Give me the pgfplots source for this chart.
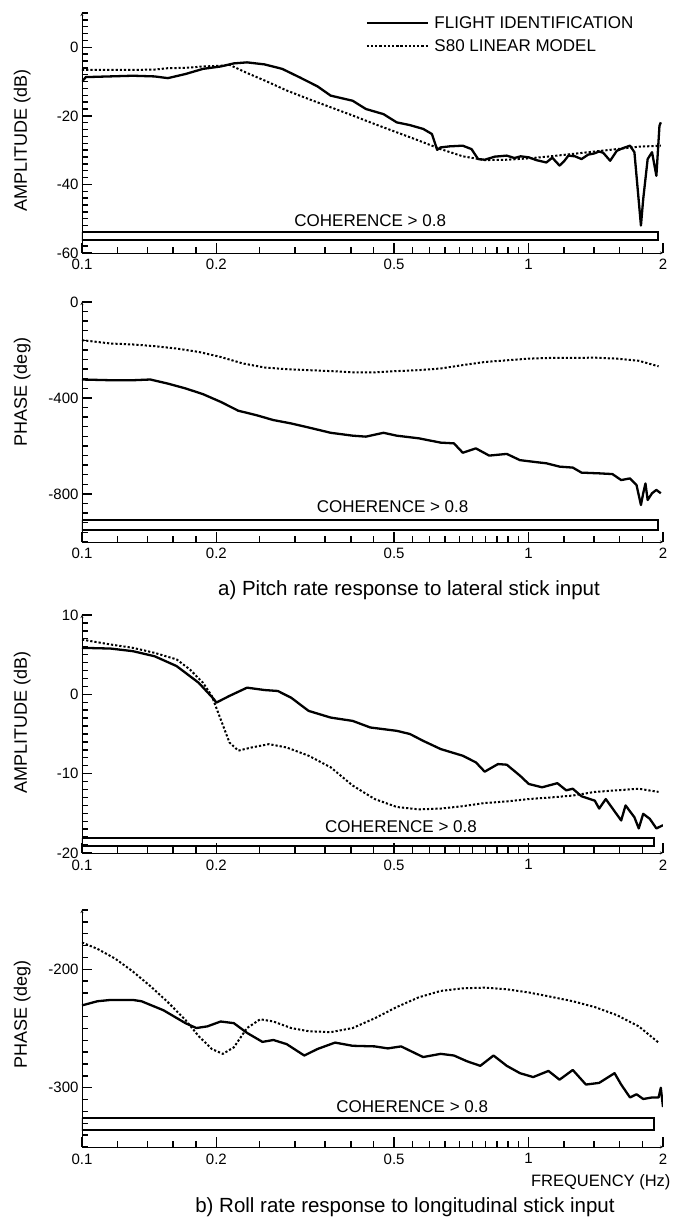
\documentclass[border=0pt]{standalone}
\usepackage{fontspec}
\setmainfont{Liberation Sans}
\usepackage{pgfplots}
\pgfplotsset{compat=1.18}
\pgfplotsset{
  every axis/.append style={
    scale only axis, width=581pt,
    xmin=0.1, xmax=2,
    axis x line=bottom, axis y line=left,
    xtick={0.1,0.2,0.5,1,2}, xticklabels={0.1,0.2,0.5,1,2},
    minor xtick={0.12,0.14,0.16,0.18,0.25,0.3,0.35,0.4,0.45,0.55,0.6,0.65,0.7,0.75,0.8,0.85,0.9,0.95,1.2,1.4,1.6,1.8},
    tick align=inside, major tick length=10pt, minor tick length=6pt,
    tick style={black, line width=1.4pt},
    tick label style={font=\fontsize{15}{17}\selectfont},
    xticklabel style={yshift=-3pt},
    /pgf/number format/assume math mode=true,
    ylabel style={font=\fontsize{18}{20}\selectfont, anchor=center},
  },
  every axis x line/.append style={-, line width=2.4pt},
  every axis y line/.append style={-, line width=2.4pt},
}
\tikzset{
  flight/.style={black, line width=2.3pt, line join=round},
  model/.style={black, line width=2pt, dash pattern=on 2.2pt off 2pt},
  coh/.style={black, line width=2pt},
  cohtext/.style={font=\fontsize{17}{19}\selectfont},
}
\begin{document}
\begin{tikzpicture}
\useasboundingbox (0,0) rectangle (683pt,1219pt);
% ---------------- Panel 1
\begin{axis}[xmode=log, height=240pt, at={(82pt,966pt)}, anchor=south west,
  ymin=-60, ymax=10, ytick={-60,-40,-20,0},
  minor ytick={-60,-58,...,10}, ylabel={AMPLITUDE (dB)},
  ylabel style={at={(axis description cs:-0.103,0.47)}},
  legend style={draw=none, fill=none, at={(0.488,0.995)}, anchor=north west,
    inner sep=0pt, row sep=6pt, column sep=3pt, font=\fontsize{17}{19}\selectfont},
  legend image post style={xscale=3.6},
  legend cell align=left]
\addplot[flight] table {
0.1 -10
0.102 -8.7
0.130 -8.3
0.1454 -8.5
0.1557 -9
0.1705 -7.8
0.1866 -6.3
0.2044 -5.6
0.2188 -4.7
0.2342 -4.4
0.2565 -5
0.2808 -6.3
0.3075 -8.8
0.3368 -11.4
0.3605 -14.1
0.4038 -15.6
0.4322 -18
0.4733 -19.5
0.5067 -21.9
0.5424 -22.7
0.5806 -23.8
0.6076 -25.3
0.6244 -29.9
0.6357 -29.2
0.6653 -28.9
0.7122 -28.7
0.7453 -29.7
0.7710 -32.6
0.7977 -32.8
0.84 -31.9
0.8936 -31.6
0.93 -32.3
0.96 -31.8
1.001 -32.1
1.04 -32.9
1.096 -33.6
1.13 -32.2
1.173 -34.5
1.20 -33.3
1.228 -31.6
1.27 -31.8
1.314 -32.6
1.36 -31.3
1.40 -31.0
1.439 -30.4
1.47 -30.8
1.523 -33.1
1.576 -30.2
1.62 -29.5
1.687 -28.7
1.726 -30.6
1.785 -52
1.806 -44.3
1.848 -32.6
1.890 -30.6
1.933 -37.5
1.964 -22.9
1.978 -21.9
};
\addplot[model] table {
0.1 -6.6
0.13 -6.6
0.1454 -6.5
0.1557 -6.1
0.1705 -6.0
0.1866 -5.6
0.2044 -5.4
0.2139 -5.1
0.2342 -7.5
0.2565 -9.7
0.2873 -12.6
0.3218 -15.1
0.3605 -17.5
0.4038 -19.9
0.4523 -22.4
0.5067 -24.8
0.5675 -27.2
0.6357 -29.7
0.7122 -31.8
0.7977 -32.9
0.8936 -32.8
1.001 -32.4
1.121 -31.8
1.256 -31.1
1.407 -30.4
1.576 -29.7
1.765 -29.0
1.978 -28.7
};
\addplot[coh, forget plot] coordinates {(0.1,-54) (1.946,-54) (1.946,-56.3) (0.1,-56.3) (0.1,-54)};
\node[cohtext] at (axis cs:0.442,-50.6) {COHERENCE > 0.8};
\legend{FLIGHT IDENTIFICATION, S80 LINEAR MODEL}
\end{axis}
% ---------------- Panel 2
\begin{axis}[xmode=log, height=240pt, at={(82pt,677pt)}, anchor=south west,
  ymin=-1000, ymax=0, ytick={-800,-400,0},
  minor ytick={-1000,-960,...,0}, ylabel={PHASE (deg)},
  ylabel style={at={(axis description cs:-0.103,0.625)}}]
\addplot[flight] table {
0.1 -323
0.1159 -326
0.130 -326
0.1422 -323
0.1557 -340
0.1705 -360
0.1866 -384
0.2044 -416
0.2238 -453
0.2451 -471
0.2683 -492
0.2939 -506
0.3218 -523
0.3605 -545
0.4038 -557
0.4322 -561
0.4733 -545
0.5067 -557
0.5675 -568
0.6357 -586
0.6806 -589
0.7122 -628
0.7623 -610
0.8162 -640
0.8936 -633
0.9566 -659
1.048 -668
1.096 -672
1.173 -686
1.256 -690
1.314 -711
1.439 -714
1.541 -717
1.612 -742
1.687 -735
1.745 -763
1.785 -846
1.806 -797
1.827 -756
1.848 -825
1.890 -797
1.933 -783
1.978 -797
};
\addplot[model] table {
0.1 -159
0.1159 -173
0.130 -177
0.1454 -184
0.1629 -194
0.1825 -208
0.2044 -229
0.2290 -256
0.2565 -273
0.2873 -280
0.3218 -284
0.3605 -288
0.4038 -293
0.4523 -293
0.5067 -288
0.5675 -284
0.6357 -277
0.7122 -263
0.7977 -250
0.8936 -243
1.001 -236
1.121 -233
1.256 -233
1.407 -232
1.576 -236
1.765 -245
1.955 -268
};
\addplot[coh, forget plot] coordinates {(0.1,-908) (1.946,-908) (1.946,-950) (0.1,-950) (0.1,-908)};
\node[cohtext] at (axis cs:0.496,-853) {COHERENCE > 0.8};
\end{axis}
\node[font=\fontsize{20.5}{24}\selectfont] at (409pt,629pt) {a) Pitch rate response to lateral stick input};
% ---------------- Panel 3
\begin{axis}[xmode=log, height=238pt, at={(82pt,366pt)}, anchor=south west,
  ymin=-20, ymax=10, ytick={-20,-10,0,10},
  minor ytick={-20,-19,...,10}, ylabel={AMPLITUDE (dB)},
  ylabel style={at={(axis description cs:-0.103,0.55)}}]
\addplot[flight] table {
0.1 5.86
0.1159 5.77
0.130 5.44
0.1454 4.8
0.1629 3.56
0.1825 1.46
0.1976 -0.63
0.1998 -1.05
0.2139 -0.2
0.2342 0.84
0.2565 0.54
0.2745 0.42
0.2939 -0.42
0.3218 -2.09
0.3605 -2.93
0.4038 -3.35
0.4422 -4.18
0.5067 -4.6
0.5424 -5.0
0.5806 -5.86
0.6357 -6.9
0.7122 -7.74
0.7623 -8.58
0.7977 -9.75
0.854 -8.79
0.8936 -8.87
0.9566 -10.25
1.001 -11.3
1.072 -11.72
1.160 -11.2
1.214 -12.1
1.256 -11.9
1.314 -12.85
1.407 -13.4
1.439 -14.4
1.489 -13.2
1.612 -15.9
1.649 -14.0
1.726 -15.5
1.765 -16.9
1.806 -15.06
1.869 -15.7
1.933 -16.9
2.0 -16.5
};
\addplot[model] table {
0.1 6.9
0.1159 6.28
0.130 5.86
0.1454 5.23
0.1629 4.4
0.1744 3.14
0.1866 1.46
0.1953 -0.2
0.2044 -3.14
0.2139 -6.07
0.2238 -7.1
0.2396 -6.7
0.2624 -6.28
0.2873 -6.7
0.3218 -7.74
0.3605 -9.2
0.4038 -11.5
0.4523 -13.2
0.5067 -14.2
0.5675 -14.5
0.6357 -14.4
0.7122 -14.1
0.7977 -13.7
0.8936 -13.5
1.001 -13.2
1.121 -13.0
1.256 -12.76
1.407 -12.3
1.576 -12.1
1.765 -11.9
1.955 -12.3
};
\addplot[coh, forget plot] coordinates {(0.1,-18.1) (1.91,-18.1) (1.91,-19.1) (0.1,-19.1) (0.1,-18.1)};
\node[cohtext] at (axis cs:0.518,-16.7) {COHERENCE > 0.8};
\end{axis}
% ---------------- Panel 4
\begin{axis}[xmode=log, height=237pt, at={(82pt,72pt)}, anchor=south west,
  ymin=-350, ymax=-150, ytick={-300,-200},
  minor ytick={-350,-340,...,-150}, ylabel={PHASE (deg)},
  ylabel style={at={(axis description cs:-0.103,0.56)}}]
\addplot[flight] table {
0.1 -230.5
0.1083 -227
0.1159 -225.9
0.130 -225.9
0.1359 -227
0.1522 -234.6
0.1705 -245.5
0.1804 -249.6
0.1909 -248.2
0.2044 -244.1
0.2188 -245.5
0.2342 -253.7
0.2536 -261.3
0.2683 -259.7
0.2873 -263.2
0.3146 -272.8
0.3368 -267.3
0.3687 -261.9
0.4038 -264.6
0.4523 -265.1
0.4841 -266.8
0.5182 -265.1
0.5806 -274.1
0.6357 -271.4
0.6806 -272.8
0.7285 -277.7
0.7798 -281.5
0.8347 -272.8
0.8936 -281.5
0.9566 -287.7
1.024 -291
1.108 -285.8
1.173 -293.2
1.256 -285
1.344 -297.3
1.439 -295.9
1.558 -287.7
1.612 -297.3
1.687 -308.2
1.745 -305.5
1.806 -309.5
1.890 -308.2
1.955 -308.2
1.978 -300
2.0 -316.3
};
\addplot[model] table {
0.1 -177.4
0.1083 -182.8
0.1186 -191
0.130 -201.9
0.1422 -214.2
0.1557 -227.8
0.1705 -242.8
0.1825 -256.4
0.1953 -267.3
0.2067 -271.4
0.2188 -265.9
0.2342 -249.6
0.2507 -242.2
0.2683 -244.1
0.2939 -249.6
0.3218 -252.3
0.3605 -253.1
0.4038 -249.6
0.4523 -241.4
0.5067 -231.9
0.5675 -223.7
0.6357 -218.3
0.7122 -216.1
0.7977 -215.5
0.8936 -216.9
1.001 -219.6
1.121 -223.2
1.256 -227
1.407 -231.9
1.576 -238.7
1.765 -248.2
1.955 -261.9
};
\addplot[coh, forget plot] coordinates {(0.1,-325.9) (1.91,-325.9) (1.91,-336) (0.1,-336) (0.1,-325.9)};
\node[cohtext] at (axis cs:0.549,-316.3) {COHERENCE > 0.8};
\end{axis}
\node[font=\fontsize{16.5}{19}\selectfont, anchor=east] at (674pt,37pt) {FREQUENCY (Hz)};
\node[font=\fontsize{20.5}{24}\selectfont] at (405pt,12pt) {b) Roll rate response to longitudinal stick input};
\end{tikzpicture}
\end{document}
